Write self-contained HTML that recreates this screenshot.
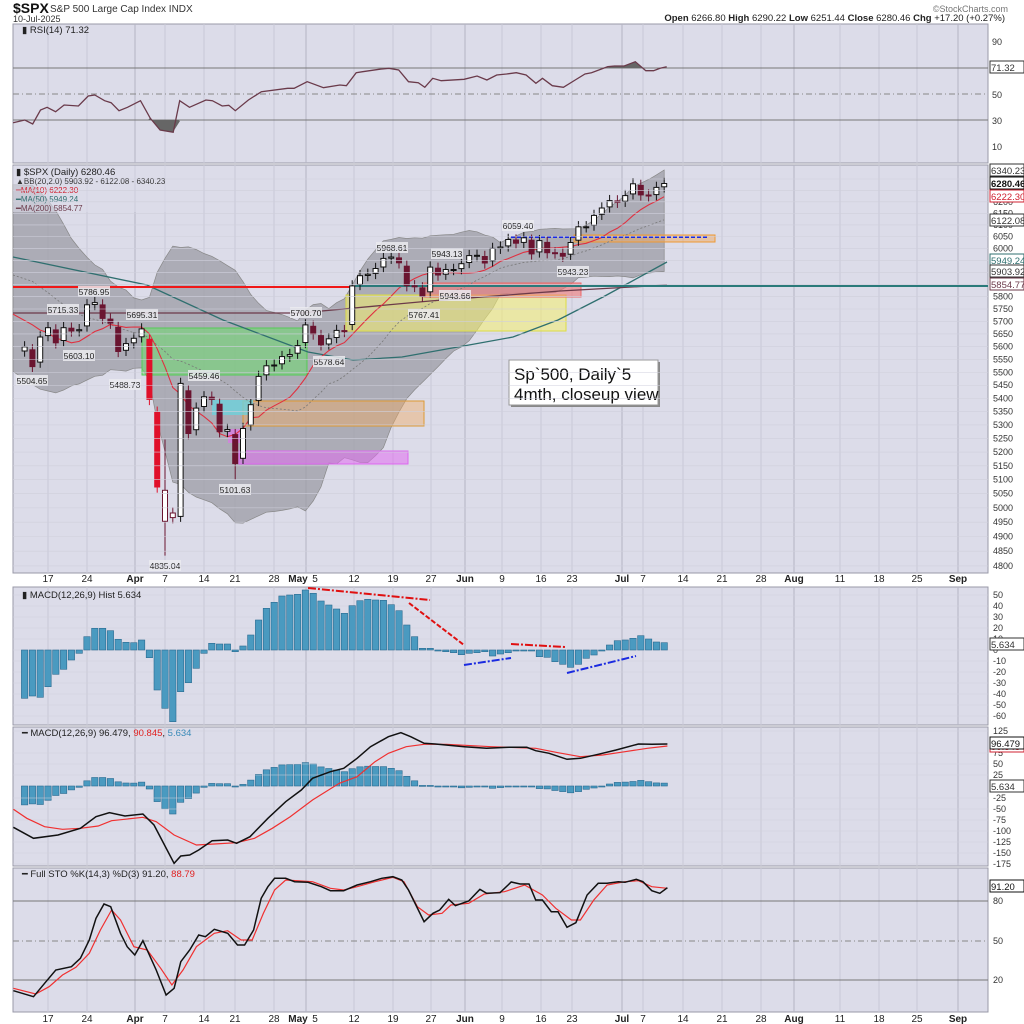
<!DOCTYPE html>
<html><head><meta charset="utf-8"><style>
body{margin:0;background:#fff;width:1024px;height:1024px;overflow:hidden}
svg{display:block;font-family:"Liberation Sans",sans-serif}
</style></head><body>
<svg id="s" width="1024" height="1024" xmlns="http://www.w3.org/2000/svg"></svg>
<script>
const S=document.getElementById('s');let h='';
const L=13,R=988;
const X=i=>24.6+7.8*i;
const PY=p=>170+1423*Math.log(6340/p);
function t(x,y,s,sz,c,a,w){h+=`<text x="${x}" y="${y}" font-size="${sz||10}" fill="${c||'#222'}" text-anchor="${a||'start'}" ${w?'font-weight="bold"':''}>${s}</text>`;}
function pl(pts,c,w,extra){h+=`<polyline fill="none" stroke="${c}" stroke-width="${w||1}" ${extra||''} points="${pts.map(p=>p[0].toFixed(1)+','+p[1].toFixed(1)).join(' ')}"/>`;}
function rect(x,y,w,hh,f,st,extra){h+=`<rect x="${x}" y="${y}" width="${w}" height="${hh}" fill="${f}" ${st?`stroke="${st}"`:''} ${extra||''}/>`;}
const panels=[[24,163],[165,573],[587,725],[727,866],[868,1012]];
panels.forEach(p=>rect(L,p[0],R-L,p[1]-p[0],'#dcdce9','#9a9aa8'));
const weeks=[[48,'17'],[87,'24'],[135,'Apr',1],[165,'7'],[204,'14'],[235,'21'],[274,'28'],[306,'May',1],[354,'12'],[393,'19'],[431,'27'],[465,'Jun',1],[502,'9'],[541,'16'],[572,'23'],[622,'Jul',1],[643,'7'],[683,'14'],[722,'21'],[761,'28'],[794,'Aug',1],[840,'11'],[879,'18'],[917,'25'],[958,'Sep',1]];
panels.forEach(p=>weeks.forEach(w=>{h+=`<line x1="${w[0]}" x2="${w[0]}" y1="${p[0]}" y2="${p[1]}" stroke="${w[2]?'#b4b4c4':'#c8c8d6'}" stroke-width="1"/>`;}));
[578,1018].forEach(y=>weeks.forEach(w=>{let lab=w[1];let x=w[0];if(lab=='May'){t(x-8,y+4,'May',10,'#222','middle',1);t(x+9,y+4,'5',10,'#222','middle');}else t(x,y+4,lab,10,'#222','middle',w[2]);}));
t(13,13,'$SPX',14,'#111','start',1);t(50,12,'S&amp;P 500 Large Cap Index  INDX',10,'#333');
t(13,22,'10-Jul-2025',9,'#333');
t(1008,12,'©StockCharts.com',9,'#777','end');
t(1005,21,'<tspan font-weight="bold">Open</tspan> 6266.80 <tspan font-weight="bold">High</tspan> 6290.22 <tspan font-weight="bold">Low</tspan> 6251.44 <tspan font-weight="bold">Close</tspan> 6280.46 <tspan font-weight="bold">Chg</tspan> +17.20 (+0.27%)',9.5,'#222','end');
[[41,'90'],[94,'50'],[120,'30'],[146,'10']].forEach(a=>t(992,a[0]+4,a[1],9,'#333'));
h+=`<line x1="${L}" x2="${R}" y1="68" y2="68" stroke="#777"/><line x1="${L}" x2="${R}" y1="120" y2="120" stroke="#777"/><line x1="${L}" x2="${R}" y1="94" y2="94" stroke="#888" stroke-dasharray="6,3,1,3"/>`;
const rsi=[[20,368],[38,360],[50,372],[62,330],[72,322],[85,335],[98,315],[120,318],[135,288],[145,285],[160,302],[170,308],[182,332],[195,322],[215,302],[230,355],[245,390],[265,397],[275,302],[290,322],[315,300],[325,302],[340,318],[350,316],[360,332],[380,300],[400,275],[440,265],[450,265],[470,245],[495,263],[520,255],[530,257],[545,218],[555,215],[580,208],[595,205],[610,210],[625,245],[640,248],[650,262],[662,235],[675,242],[710,238],[730,228],[745,240],[760,225],[775,222],[790,218],[805,225],[820,250],[830,235],[845,257],[862,262],[880,240],[895,222],[905,218],[930,200],[940,198],[955,198],[972,185],[988,212],[1000,212],[1010,205],[1020,200]].map(p=>[p[0]/1.53,p[1]/3]);
h+=`<polygon fill="#666" points="148,120 ${(230/1.53).toFixed(0)},${(355/3).toFixed(0)} 160,130 173,132 ${(275/1.53).toFixed(0)},${(302/3+20).toFixed(0)} 178,120"/>`;
h+=`<polygon fill="#666" points="605,68 ${(940/1.53).toFixed(0)},66 625,66 ${(972/1.53).toFixed(0)},62 642,68"/>`;
pl(rsi,'#6a3a4a',1.3);
h+=`<text x="22" y="33" font-size="9.5" fill="#222">▮ RSI(14) 71.32</text>`;
const pre=[6051,6115,6114,6129,6144,6117,6013,5983,5955,5861,5954,5849,5778,5842,5738,5770,5614,5572,5580];
const c=[5599,5522,5638,5675,5615,5675,5662,5667,5767,5776,5712,5693,5581,5612,5633,5670,5396,5074,5062,4982,5457,5268,5363,5406,5396,5275,5283,5158,5287,5376,5484,5525,5528,5561,5569,5604,5686,5650,5607,5631,5664,5660,5844,5886,5892,5916,5958,5964,5940,5845,5842,5802,5922,5889,5912,5912,5936,5970,5971,5939,6000,6006,6038,6022,6045,5977,6033,5982,5981,5967,6025,6092,6092,6141,6173,6205,6198,6227,6279,6230,6226,6263,6280];
const all=pre.concat(c);const P=pre.length;
function sma(n,i){let s=0;for(let k=i-n+1;k<=i;k++)s+=all[k];return s/n;}
const up=[],lo=[],mid=[],m10=[];
for(let i=0;i<c.length;i++){const j=i+P;const m=sma(Math.min(20,j+1),j);let v=0;const n=Math.min(20,j+1);for(let k=j-n+1;k<=j;k++)v+=(all[k]-m)**2;const sd=Math.sqrt(v/n);up.push([X(i),PY(m+2*sd)]);lo.push([X(i),PY(m-2*sd)]);mid.push([X(i),PY(m)]);m10.push([X(i),PY(sma(10,j))]);}
up[0][0]=L;lo[0][0]=L;mid[0][0]=L;m10[0][0]=L;
h+=`<polygon fill="#9c9ca4" fill-opacity="0.75" stroke="#888" stroke-width="0.7" points="${up.concat(lo.slice().reverse()).map(p=>p[0].toFixed(1)+','+p[1].toFixed(1)).join(' ')}"/>`;
rect(142,328,165,47,'rgba(110,220,110,0.55)','#5c5');
rect(346,295,220,36,'rgba(245,240,110,0.55)','#dd4');
rect(424,283,157,14,'rgba(240,120,120,0.6)','#e66');
rect(243,401,181,25,'rgba(240,170,100,0.45)','#d93');
rect(212,400,41,15,'rgba(110,210,220,0.8)');
rect(228,429,17,14,'rgba(230,110,240,0.6)');
rect(239,451,169,13,'rgba(225,110,240,0.55)','#d6e');
rect(574,235,141,7,'rgba(240,170,100,0.5)','#e93');
pl(mid,'#777',0.8,'stroke-dasharray="2,2"');
const ma50=[[13,257],[147,285],[223,320],[308,352],[353,360],[402,357],[469,345],[513,337],[558,320],[603,297],[625,285],[667,262]];
pl(ma50,'#2f6f6f',1.3);
pl([[13,313],[300,313],[430,301],[560,291],[667,285]],'#6b3a4a',1.3);
pl(m10,'#e03040',1.1);
h+=`<line x1="${L}" x2="355" y1="287" y2="287" stroke="#f01818" stroke-width="2"/><line x1="355" x2="${R}" y1="286" y2="286" stroke="#2a7a7a" stroke-width="2"/>`;
h+=`<line x1="511" x2="707" y1="237" y2="237" stroke="#1a2ae0" stroke-width="2" stroke-dasharray="4,2"/>`;
for(let i=0;i<c.length;i++){const pc=i?c[i-1]:5580;let o=pc+(c[i]-pc)*0.15;
 if(i==19){o=4966;} if(i==20){o=4970;} if(i==18){o=4953;}
 let hi=Math.max(o,c[i])*1.004,lw=Math.min(o,c[i])*0.996;
 if(i==18){hi=5246;lw=4835;} if(i==27)lw=5101;
 const x=X(i);const y1=PY(Math.max(o,c[i])),y2=PY(Math.min(o,c[i]));
 const dn=c[i]<pc;let col=dn?'#6a1530':'#111';let fill=c[i]<o?col:'#fff';
 if(i==16||i==17){col='#e0102a';fill='#e0102a';}
 h+=`<line x1="${x}" x2="${x}" y1="${PY(hi)}" y2="${PY(lw)}" stroke="${col}"/>`;
 rect((x-2.5).toFixed(1),y1.toFixed(1),5,Math.max(1,y2-y1).toFixed(1),fill,col);}
[['5504.65',32,381],['5715.33',63,310],['5786.95',94,292],['5603.10',79,356],['5695.31',142,315],['5488.73',125,385],['5459.46',204,376],['5101.63',235,490],['4835.04',165,566],['5700.70',306,313],['5578.64',329,362],['5968.61',392,248],['5943.13',447,254],['5943.66',455,296],['5767.41',424,315],['6059.40',518,226],['5943.23',573,272]].forEach(a=>{rect(a[1]-16,a[2]-6,32,11,'rgba(235,235,240,0.85)');t(a[1],a[2]+3,a[0],8.5,'#222','middle');});
rect(511,362,149,45,'#888');rect(509,360,149,45,'#fff','#999');
t(514,380,'Sp`500, Daily`5',17,'#111');t(514,400,'4mth, closeup view',17,'#111');
h+=`<rect x="${L}" y="166" width="160" height="46" fill="#dcdce9" fill-opacity="0.6"/>`;
t(16,175,'▮ $SPX (Daily) 6280.46',9.5,'#222');t(16,184,'▲BB(20,2.0) 5903.92 - 6122.08 - 6340.23',8,'#333');
t(16,193,'━MA(10) 6222.30',8,'#d02030');t(16,202,'━MA(50) 5949.24',8,'#2f6f6f');t(16,211,'━MA(200) 5854.77',8,'#6b3a4a');
for(let p=4800;p<=6300;p+=50){const y=PY(p);if(y<168)continue;h+=`<line x1="${L}" x2="${R}" y1="${y}" y2="${y}" stroke="#cfcfdc" stroke-width="0.6"/>`;t(993,y+3,p,9,'#333');}
function box(y,s,c,b){rect(990,y-6,34,12,'#fff',c);t(991,y+4,s,9.5,c,'start',b);}
box(170,'6340.23','#333');box(183,'6280.46','#111',1);box(196,'6222.30','#d02030');box(220,'6122.08','#333');box(260,'5949.24','#2f6f6f');box(271,'5903.92','#333');box(284,'5854.77','#6b3a4a');box(67,'71.32','#333');
const hv=[385,378,382,350,313,298,270,250,200,175,175,182,208,217,218,210,263,360,415,455,365,338,295,250,220,222,222,245,228,195,150,115,97,78,75,73,60,70,93,105,117,130,107,92,88,90,91,104,122,165,200,235,235,240,245,248,254,250,248,245,258,252,248,243,240,243,260,262,275,283,292,283,265,255,240,225,212,210,205,197,207,216,218];
[[595,'50'],[606,'40'],[617,'30'],[628,'20'],[639,'10'],[650,'0'],[661,'-10'],[672,'-20'],[683,'-30'],[694,'-40'],[705,'-50'],[716,'-60']].forEach(a=>{h+=`<line x1="${L}" x2="${R}" y1="${a[0]}" y2="${a[0]}" stroke="#cfcfdc" stroke-width="0.6"/>`;t(993,a[0]+3,a[1],9,'#333');});
hv.forEach((v,i)=>{const y=570+v/3;const x=X(i);rect((x-3.2).toFixed(1),Math.min(650,y).toFixed(1),6.4,Math.max(1,Math.abs(y-650)).toFixed(1),'#4a9ac0','#2a6a90','stroke-width="0.6"');
 const y2=786+(v-240)/3*0.39;rect((x-3.2).toFixed(1),Math.min(786,y2).toFixed(1),6.4,Math.max(1,Math.abs(y2-786)).toFixed(1),'#4a9ac0','#2a6a90','stroke-width="0.6"');});
t(22,598,'▮ MACD(12,26,9) Hist 5.634',9.5,'#222');box(644,'5.634','#333');
pl([[308,588],[430,600]],'#e01010',2,'stroke-dasharray="8,2,2,2"');pl([[409,603],[464,645]],'#e01010',2,'stroke-dasharray="5,2"');
pl([[511,644],[565,647]],'#e01010',2,'stroke-dasharray="8,2,2,2"');
pl([[464,665],[511,658]],'#1a2ae0',2,'stroke-dasharray="8,2,2,2"');pl([[567,673],[636,656]],'#1a2ae0',2,'stroke-dasharray="8,2,2,2"');
[[731,'125'],[753,'75'],[764,'50'],[775,'25'],[798,'-25'],[809,'-50'],[820,'-75'],[831,'-100'],[842,'-125'],[853,'-150'],[864,'-175']].forEach(a=>{h+=`<line x1="${L}" x2="${R}" y1="${a[0]}" y2="${a[0]}" stroke="#cfcfdc" stroke-width="0.6"/>`;t(993,a[0]+3,a[1],9,'#333');});
const mk=[[30,772],[75,805],[130,795],[180,775],[215,740],[245,728],[280,738],[320,732],[345,765],[390,880],[405,858],[425,855],[445,840],[475,812],[510,810],[530,820],[560,800],[600,745],[640,695],[675,660],[700,625],[740,605],[770,595],[800,565],[830,530],[870,500],[898,488],[920,500],[950,520],[975,522],[1040,530],[1090,535],[1140,532],[1180,532],[1200,542],[1230,550],[1270,568],[1300,565],[1340,553],[1380,540],[1430,522],[1460,523],[1495,522]];
const ms=[[30,718],[60,745],[100,770],[140,778],[180,775],[220,768],[250,752],[320,742],[350,755],[390,795],[440,825],[480,822],[530,818],[570,805],[610,775],[650,740],[700,690],[760,640],[800,620],[840,575],[870,550],[910,530],[950,523],[1000,523],[1100,530],[1200,535],[1250,548],[1300,560],[1350,555],[1400,545],[1450,535],[1495,528]];
const cv=a=>a.map(p=>[p[0]/2.24,570+p[1]/3]);
pl(cv(ms),'#f03030',1.2);pl(cv(mk),'#111',1.5);
t(22,736,'━ MACD(12,26,9) 96.479, <tspan fill="#e02020">90.845</tspan>, <tspan fill="#3a8ab8">5.634</tspan>',9.5,'#222');
box(746,'90.845','#d02030');box(743,'96.479','#111');box(786,'5.634','#333');
[[901,'80'],[980,'20']].forEach(a=>{h+=`<line x1="${L}" x2="${R}" y1="${a[0]}" y2="${a[0]}" stroke="#777"/>`;t(993,a[0]+3,a[1],9,'#333');});
h+=`<line x1="${L}" x2="${R}" y1="941" y2="941" stroke="#888" stroke-dasharray="6,3,1,3"/>`;t(993,944,'50',9,'#333');
const sk=[[30,1262],[75,1280],[100,1240],[125,1200],[160,1190],[180,1165],[200,1110],[215,1045],[233,1002],[248,1010],[270,1090],[285,1130],[302,1155],[320,1112],[350,1200],[372,1275],[390,1255],[405,1175],[425,1140],[445,1095],[460,1100],[480,1078],[510,1090],[532,1125],[548,1125],[568,1080],[585,985],[600,950],[615,925],[640,925],[660,935],[690,937],[720,950],[740,962],[770,962],[800,945],[830,935],[855,925],[880,920],[900,930],[915,960],[950,1055],[970,1030],[985,1020],[1005,988],[1020,1007],[1050,993],[1075,958],[1090,970],[1120,968],[1145,936],[1165,942],[1185,942],[1200,990],[1215,990],[1235,1025],[1250,1025],[1270,1072],[1290,1058],[1315,975],[1340,940],[1360,940],[1385,935],[1400,937],[1425,928],[1440,935],[1460,962],[1478,970],[1495,953]];
const sd=[[30,1255],[80,1272],[110,1250],[140,1215],[170,1192],[200,1150],[225,1080],[250,1020],[270,1050],[300,1130],[330,1140],[360,1195],[385,1245],[410,1200],[440,1130],[480,1090],[510,1082],[540,1110],[565,1110],[590,1030],[615,960],[640,930],[700,935],[740,955],[770,960],[800,950],[840,935],[880,922],[905,935],[935,1010],[960,1035],[990,1030],[1010,1005],[1050,1000],[1085,972],[1130,965],[1175,945],[1215,975],[1245,1015],[1280,1050],[1300,1050],[1330,990],[1360,945],[1400,935],[1430,932],[1460,950],[1495,955]];
pl(cv(sd),'#f03030',1.2);pl(cv(sk),'#111',1.5);
t(22,877,'━ Full STO %K(14,3) %D(3) 91.20, <tspan fill="#e02020">88.79</tspan>',9.5,'#222');
box(886,'91.20','#111');
S.innerHTML=h;
</script>
</body></html>
